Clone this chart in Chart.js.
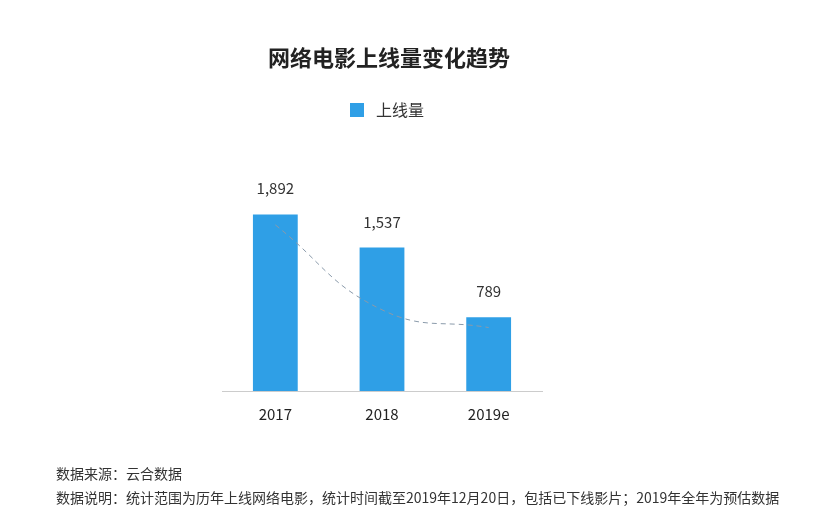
<!DOCTYPE html>
<html><head><meta charset="utf-8">
<script src="https://cdn.jsdelivr.net/npm/chart.js@4"></script>
<style>
body{margin:0;width:820px;height:525px;background:#fff;font-family:"Noto Sans CJK SC","Noto Sans",sans-serif;position:relative;overflow:hidden}
#c{position:absolute;left:0;top:0}
.t{position:absolute;color:#222;white-space:nowrap}
</style></head><body>
<canvas id="c" width="820" height="525"></canvas>
<div class="t" style="left:268px;top:40px;font-size:22px;font-weight:bold">网络电影上线量变化趋势</div>
<div class="t" style="left:350px;top:103px;width:14px;height:14px;background:#2f9fe6"></div>
<div class="t" style="left:376px;top:97px;font-size:16px;color:#333">上线量</div>
<div class="t" style="left:56px;top:463px;font-size:14px;color:#333">数据来源：云合数据</div>
<div class="t" style="left:56px;top:487px;font-size:14px;color:#333">数据说明：统计范围为历年上线网络电影，统计时间截至2019年12月20日，包括已下线影片；2019年全年为预估数据</div>
<script>
const categories=["2017","2018","2019e"];
const releases=[1892,1537,789];
const trend=[1780,870,680];
const labelPlugin={id:'lbl',afterDatasetsDraw(ch){const ctx=ch.ctx;const m=ch.getDatasetMeta(0);ctx.save();ctx.font='15px "Noto Sans CJK SC",sans-serif';ctx.fillStyle='#333';ctx.textAlign='center';
m.data.forEach((b,i)=>{ctx.fillText(releases[i].toLocaleString('en-US'),b.x,b.y-20);});ctx.restore();}};
new Chart(document.getElementById('c'),{
data:{labels:categories,datasets:[
{type:'bar',data:releases,backgroundColor:'#2f9fe6',barPercentage:0.42,categoryPercentage:1,order:2},
{type:'line',data:trend,borderColor:'#8a9aaa',borderWidth:1,borderDash:[5,4],pointRadius:0,tension:0.45,fill:false,order:1}
]},
options:{responsive:false,animation:false,
layout:{padding:{left:222,right:278,top:167,bottom:96}},
plugins:{legend:{display:false},title:{display:false},tooltip:{enabled:false}},
scales:{x:{grid:{display:false},border:{color:'#ccc'},ticks:{color:'#222',font:{size:15,family:'"Noto Sans CJK SC",sans-serif'},padding:6}},
y:{display:false,min:0,max:2400}}},
plugins:[labelPlugin]});
</script>
</body></html>
